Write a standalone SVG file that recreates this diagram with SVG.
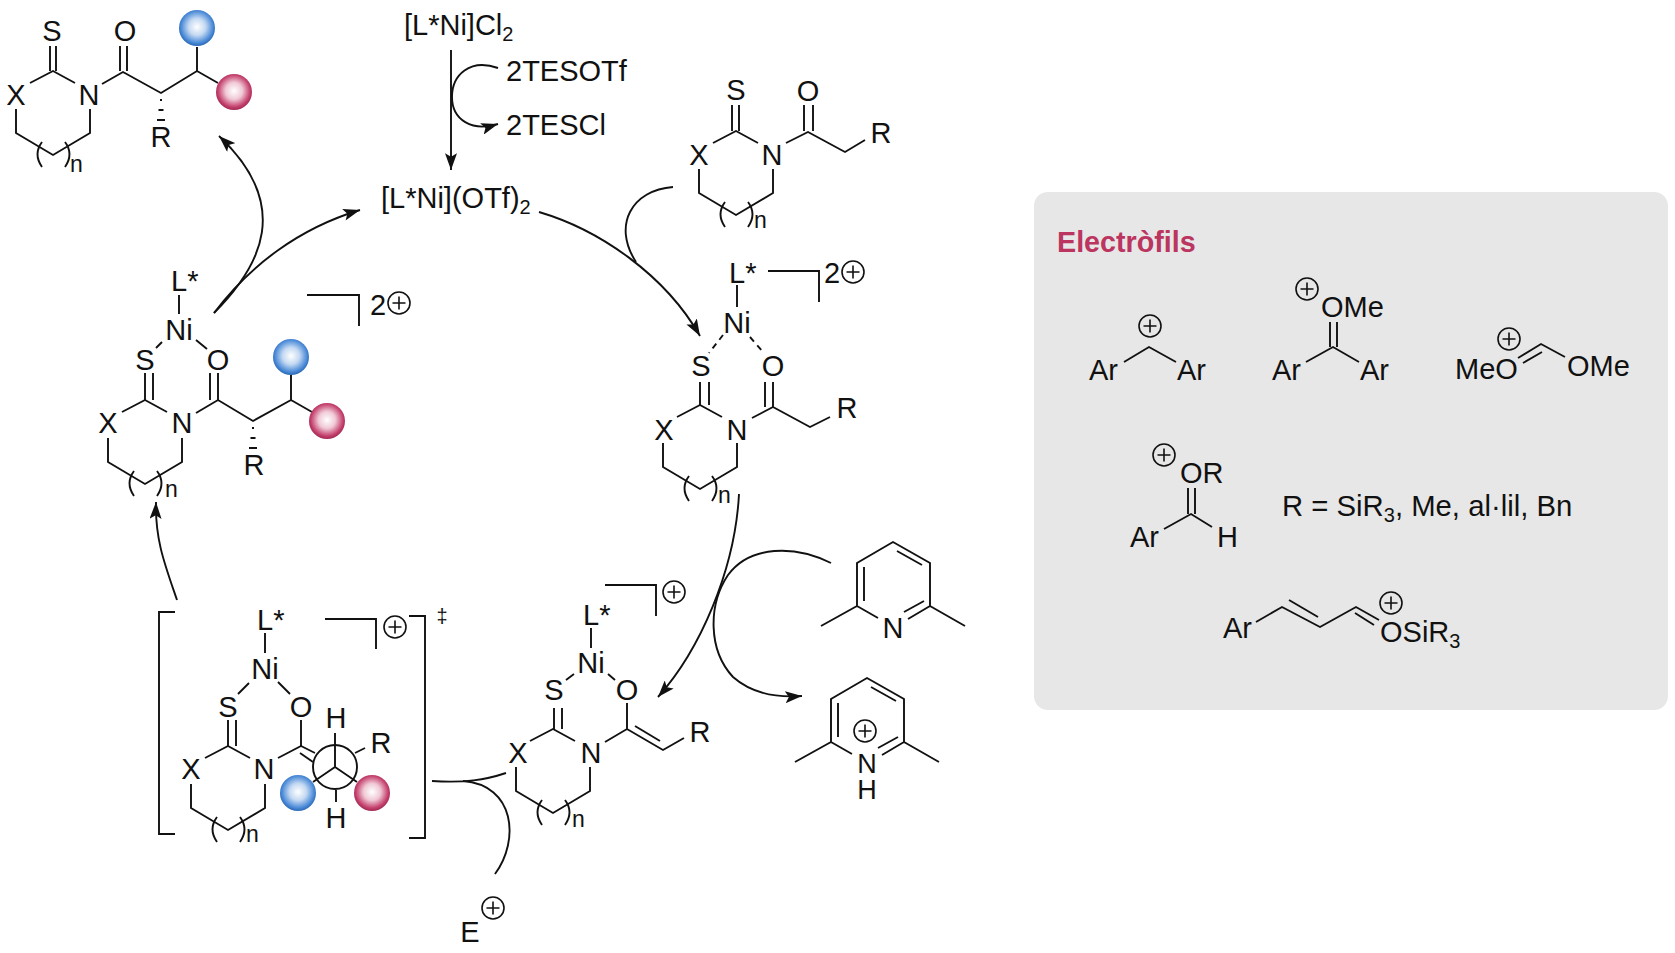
<svg xmlns="http://www.w3.org/2000/svg" width="1675" height="953" viewBox="0 0 1675 953">
<style>
text{font-family:"Liberation Sans",Arial,sans-serif;font-size:29px;fill:#111}
.m{text-anchor:middle}
.n{font-size:23px}
.s{font-size:20px}
.b,.b path{fill:none;stroke:#111;stroke-width:1.9}
.d{fill:none;stroke:#111;stroke-width:1.9;stroke-dasharray:6 5}
.a{fill:none;stroke:#111;stroke-width:1.9;marker-end:url(#ah)}
.title{font-size:28.700px;font-weight:bold;fill:#bb3560}
.sb{fill:url(#gb)}
.sr{fill:url(#gr)}
</style>
<defs>
<marker id="ah" markerUnits="userSpaceOnUse" viewBox="0 0 14 10" refX="14" refY="5" markerWidth="17" markerHeight="12" orient="auto"><path d="M14,5 L0,0 L3,5 L0,10 Z" fill="#111"/></marker>
<radialGradient id="gb" cx=".5" cy=".47" r=".52"><stop offset="0" stop-color="#fff"/><stop offset=".45" stop-color="#c4d9f2"/><stop offset=".85" stop-color="#4c8bd8"/><stop offset="1" stop-color="#2e6cb8"/></radialGradient>
<radialGradient id="gr" cx=".5" cy=".47" r=".52"><stop offset="0" stop-color="#fff"/><stop offset=".45" stop-color="#f0c9d5"/><stop offset=".85" stop-color="#c5426f"/><stop offset="1" stop-color="#a62a55"/></radialGradient>
<g id="ring"><path class="b" d="M-23,12L0,0L22,12M-37,38V62L0,84L37,62V38M-11,71Q-20,83 -11,96M12,71Q21,83 12,96"/></g>
<g id="plus"><circle r="11" fill="none" stroke="#111" stroke-width="1.6"/><path d="M-6.500,0H6.500M0,-6.500V6.500" stroke="#111" stroke-width="1.6"/></g>
<g id="pyr"><path class="b" d="M831,742V699L867,678L904,699V742M831,742L852,754M904,742L882,755M838,703V737M871,687L896,701M878,748L898,737M831,742L795,762M904,742L939,762"/></g>
</defs>
<rect id="panel" x="1034" y="192" width="634" height="518" rx="14" fill="#e7e7e7"/>

<g id="connectors">
<path class="a" d="M451,50V170"/>
<path class="a" d="M498,68C470,58 452,75 452,97C452,120 472,132 498,124"/>
<path class="a" d="M214,313C250,265 300,228 360,210"/>
<path class="a" d="M214,313C262,265 292,205 219,136"/>
<path class="a" d="M539,212C600,230 665,275 700,336"/>
<path class="b" d="M673,187C632,190 612,225 636,262"/>
<path class="a" d="M739,494C735,570 700,650 658,697"/>
<path class="a" d="M831,563C795,545 750,545 728,575C708,605 708,650 733,677C750,692 775,698 802,696"/>
<path class="a" d="M177,600C165,565 155,540 156,502"/>
<path class="b" d="M432,781C465,783 485,780 506,773"/>
<path class="b" d="M495,874C520,840 515,785 463,781"/>
</g>

<g id="catalyst-precursor"><text x="404" y="35">[L*Ni]Cl<tspan class="s" dy="6">2</tspan></text></g>
<g id="tesotf"><text x="506" y="81">2TESOTf</text></g>
<g id="tescl"><text x="506" y="135">2TESCl</text></g>
<g id="catalyst"><text x="381" y="208">[L*Ni](OTf)<tspan class="s" dy="6">2</tspan></text></g>

<g id="product">
<use href="#ring" x="53" y="71"/>
<path class="b" d="M50,46V71M56,46V71M102,84L123,72L161,93L197,71L218,83M197,71V47M120,46V71M127,46V71M160,100H162M158.500,110H163.500M157,120H165"/>
<circle class="sb" cx="197" cy="28" r="18"/><circle class="sr" cx="234" cy="92" r="18"/>
<text class="m" x="52" y="41">S</text><text class="m" x="125" y="41">O</text><text class="m" x="16" y="105">X</text><text class="m" x="89" y="105">N</text><text class="m" x="161" y="147">R</text><text class="n" x="70" y="172">n</text>
</g>

<g id="substrate">
<use href="#ring" x="736" y="131"/>
<path class="b" d="M732,105V131M739,105V131M786,143L808,132L845,152L865,140M804,105V131M813,105V131"/>
<text class="m" x="736" y="100">S</text><text class="m" x="808" y="101">O</text><text class="m" x="699" y="165">X</text><text class="m" x="772" y="165">N</text><text class="m" x="881" y="143">R</text><text class="n" x="754" y="228">n</text>
</g>

<g id="complex-right">
<use href="#ring" x="700" y="405"/>
<path class="b" d="M700,382V405M709,382V405M752,418L773,407L810,427L830,417M765,382V407M773,382V407M737,285V307M768,271H819V302"/>
<path class="d" d="M723,335L709,353M750,337L764,353"/>
<text x="729" y="283">L*</text><text class="m" x="737" y="333">Ni</text><text class="m" x="701" y="376">S</text><text class="m" x="773" y="376">O</text><text class="m" x="664" y="440">X</text><text class="m" x="737" y="440">N</text><text class="m" x="847" y="418">R</text><text class="n" x="718" y="503">n</text>
<text class="m" x="832" y="283">2</text><use href="#plus" x="853" y="272"/>
</g>

<g id="complex-left">
<use href="#ring" x="145" y="400"/>
<path class="b" d="M145,373V400M153,373V400M196,413L218,400L253,421L291,400L312,412M291,400V375M210,373V400M218,373V400M179,295V314M162,342L156,348M196,340L207,349M307,295H359V326M252,428H254M250.500,438H255.500M249,448H257"/>
<circle class="sb" cx="291" cy="357" r="18"/><circle class="sr" cx="327" cy="421" r="18"/>
<text x="171" y="291">L*</text><text class="m" x="179" y="340">Ni</text><text class="m" x="145" y="370">S</text><text class="m" x="218" y="370">O</text><text class="m" x="108" y="433">X</text><text class="m" x="182" y="433">N</text><text class="m" x="254" y="475">R</text><text class="n" x="165" y="497">n</text>
<text class="m" x="378" y="315">2</text><use href="#plus" x="399" y="303"/>
</g>

<g id="transition-state">
<use href="#ring" x="228" y="746"/>
<path class="b" d="M228,720V746M236,720V746M278,758L301,746L315,753M301,720V746M300,753L313,762M265,633V653M249,683L238,694M278,682L290,694M335,767V733M335,767L313,782M335,767L357,782M355,753L365,748M336,790V802M175,612H159V834H175M409,616H425V838H409M325,619H376V649"/>
<circle cx="335" cy="767" r="22" class="b"/>
<circle class="sb" cx="298" cy="793" r="18"/><circle class="sr" cx="372" cy="793" r="18"/>
<text x="257" y="630">L*</text><text class="m" x="265" y="679">Ni</text><text class="m" x="228" y="717">S</text><text class="m" x="301" y="717">O</text><text class="m" x="191" y="779">X</text><text class="m" x="264" y="779">N</text><text class="m" x="336" y="728">H</text><text class="m" x="336" y="828">H</text><text class="m" x="381" y="753">R</text><text class="n" x="246" y="842">n</text>
<use href="#plus" x="395" y="627"/><text class="m" x="442" y="623" style="font-size:20px">‡</text>
</g>

<g id="enolate">
<use href="#ring" x="553" y="729"/>
<path class="b" d="M554,708V729M562,708V729M605,742L627,729L663,750L684,738M627,703V729M635,726L660,741M591,628V648M574,674L566,680M608,674L615,680M605,585H656V616"/>
<text x="583" y="625">L*</text><text class="m" x="591" y="673">Ni</text><text class="m" x="554" y="700">S</text><text class="m" x="627" y="700">O</text><text class="m" x="518" y="763">X</text><text class="m" x="591" y="763">N</text><text class="m" x="700" y="742">R</text><text class="n" x="572" y="827">n</text>
<use href="#plus" x="674" y="592"/>
</g>

<g id="electrophile-e"><text class="m" x="470" y="942">E</text><use href="#plus" x="493" y="908"/></g>
<g id="lutidine"><use href="#pyr" transform="translate(26,-136)"/><text class="m" x="893" y="638">N</text></g>
<g id="lutidinium"><use href="#pyr"/><text class="m" x="867" y="773" style="font-size:27px">N</text><text class="m" x="867" y="799" style="font-size:27px">H</text><use href="#plus" x="865" y="731"/></g>

<g id="electrophiles">
<text class="title" x="1057" y="252">Electròfils</text>
<g id="e1"><path class="b" d="M1124,362L1149,347L1176,362"/><text x="1089" y="380">Ar</text><text x="1177" y="380">Ar</text><use href="#plus" x="1150" y="326"/></g>
<g id="e2"><path class="b" d="M1306,362L1333,347L1359,362M1330,322V347M1337,322V347"/><text x="1272" y="380">Ar</text><text x="1360" y="380">Ar</text><text x="1321" y="317">OMe</text><use href="#plus" x="1307" y="289"/></g>
<g id="e3"><path class="b" d="M1518,358L1541,344L1565,357M1523,363L1542,352"/><text x="1455" y="379">MeO</text><text x="1567" y="376">OMe</text><use href="#plus" x="1509" y="339"/></g>
<g id="e4"><path class="b" d="M1164,529L1191,514L1212,527M1188,488V514M1195,488V514"/><text x="1130" y="547">Ar</text><text x="1217" y="547">H</text><text x="1180" y="483">OR</text><use href="#plus" x="1164" y="455"/></g>
<g id="r-def"><text x="1282" y="516" style="font-size:29.300px">R = SiR<tspan class="s" dy="6">3</tspan><tspan dy="-6">, Me, al·lil, Bn</tspan></text></g>
<g id="e5"><path class="b" d="M1256,622L1282,607L1320,627L1356,607L1379,620M1289,600L1318,617M1355,613L1374,625"/><text x="1223" y="638">Ar</text><text x="1380" y="642">OSiR<tspan class="s" dy="6">3</tspan></text><use href="#plus" x="1391" y="603"/></g>
</g>
</svg>
